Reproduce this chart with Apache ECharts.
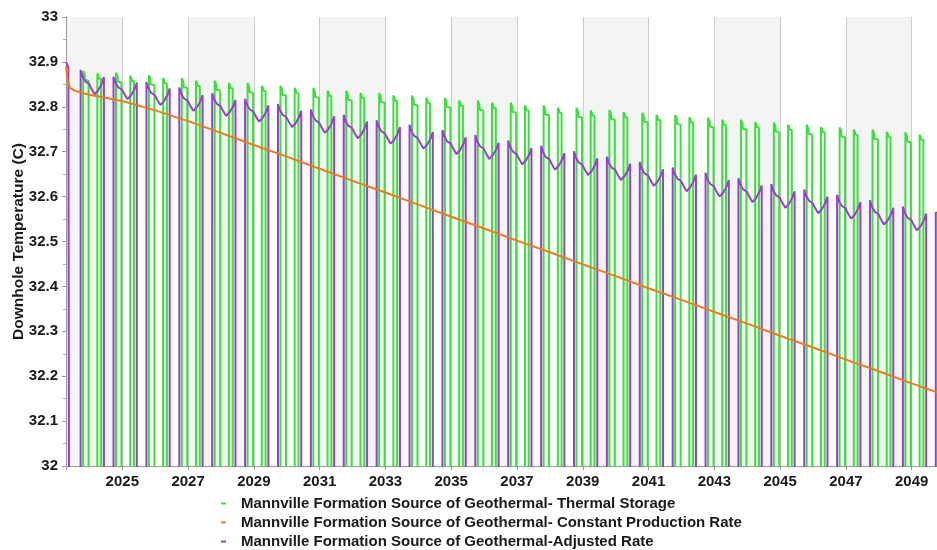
<!DOCTYPE html>
<html><head><meta charset="utf-8">
<script src="https://cdn.jsdelivr.net/npm/echarts@6/dist/echarts.min.js"></script>
<style>html,body{margin:0;padding:0;background:#fff}#c{width:937px;height:550px}</style>
</head><body><div id="c"></div>
<script>
// ---- data ----
const seriesNames = [
  'Mannville Formation Source of Geothermal- Thermal Storage',
  'Mannville Formation Source of Geothermal- Constant Production Rate',
  'Mannville Formation Source of Geothermal-Adjusted Rate'
];
const xStart = 2023.288, xEnd = 2049.77;          // decimal years
const labelYears = [2025,2027,2029,2031,2033,2035,2037,2039,2041,2043,2045,2047,2049];
const yTicks = [32,32.1,32.2,32.3,32.4,32.5,32.6,32.7,32.8,32.9,33];
const offChart = 31.5;                              // values below the visible range

// cycle start years (each cycle: purple rises ~late Sept)
const cycleYears = [2023,2024,2025,2026,2027,2028,2029,2030,2031,2032,2033,2034,2035,2036,2037,2038,2039,2040,2041,2042,2043,2044,2045,2046,2047,2048];
// event timing within a cycle (years after Jan 1 of the cycle year)
const phase = {pRise:0.733, g1Rise:0.809, g1Fall:0.975, g2Rise:1.241, g2Fall:1.356, pFall:1.441};

// Adjusted Rate (purple): start, minimum, end of each operating period
const pStart = [32.882,32.867,32.855,32.843,32.830,32.818,32.806,32.794,32.782,32.770,32.760,32.748,32.737,32.725,32.713,32.701,32.689,32.677,32.665,32.653,32.641,32.628,32.616,32.604,32.592,32.578];
const pMin   = [32.828,32.817,32.804,32.791,32.780,32.767,32.755,32.742,32.730,32.718,32.707,32.695,32.684,32.672,32.660,32.648,32.637,32.624,32.612,32.600,32.588,32.575,32.563,32.551,32.538,32.525];
const pEnd   = [32.866,32.854,32.841,32.826,32.815,32.803,32.791,32.779,32.767,32.755,32.744,32.732,32.720,32.708,32.697,32.685,32.673,32.661,32.649,32.637,32.625,32.612,32.600,32.588,32.575,32.562];
const pInitial = [[2023.288,32.900],[2023.36,32.888],[2023.39,32.884]];
const pFinal = [[2049.733,32.565],[2049.77,32.563]];

// Thermal Storage (green): two pulses per cycle
const g1Peak = [32.880,32.876,32.870,32.864,32.858,32.853,32.847,32.842,32.836,32.831,32.825,32.820,32.814,32.809,32.803,32.798,32.793,32.787,32.782,32.776,32.771,32.765,32.760,32.754,32.749,32.743];
const g1End  = [32.858,32.854,32.848,32.842,32.836,32.831,32.825,32.820,32.814,32.809,32.803,32.798,32.792,32.787,32.781,32.776,32.771,32.765,32.760,32.754,32.749,32.743,32.738,32.732,32.727,32.721];
const g2Peak = [32.874,32.869,32.864,32.858,32.853,32.847,32.842,32.836,32.831,32.825,32.820,32.814,32.809,32.803,32.798,32.792,32.788,32.782,32.777,32.771,32.766,32.760,32.755,32.749,32.744,32.738];
const g2End  = [32.862,32.857,32.852,32.846,32.841,32.835,32.830,32.824,32.819,32.813,32.808,32.802,32.797,32.791,32.786,32.780,32.776,32.770,32.765,32.759,32.754,32.748,32.743,32.737,32.732,32.726];

// Constant Production Rate (orange)
const oYears = [2023.288,2023.318,2023.35,2023.41,2023.56,2023.74,2024,2025,2026,2027,2028,2029,2030,2031,2032,2033,2034,2035,2036,2037,2038,2039,2040,2041,2042,2043,2044,2045,2046,2047,2048,2049,2049.77];
const oVals  = [32.890,32.870,32.855,32.842,32.836,32.832,32.827,32.813,32.792,32.768,32.742,32.715,32.689,32.662,32.635,32.609,32.582,32.555,32.529,32.502,32.476,32.449,32.423,32.396,32.370,32.343,32.317,32.290,32.264,32.237,32.211,32.184,32.164];

// ---- build series data ----
const green = [[xStart, offChart]];
const purple = pInitial.slice();
purple.push([pInitial[pInitial.length-1][0], offChart]);
cycleYears.forEach((yr, k) => {
  const a = yr + phase.g1Rise, b = yr + phase.g1Fall, w1 = b - a;
  green.push([a, offChart],[a, g1Peak[k]],[a+0.28*w1, g1Peak[k]-0.008],[a+0.34*w1, g1End[k]+0.002],[b, g1End[k]],[b, offChart]);
  const c = yr + phase.g2Rise, d = yr + phase.g2Fall, w2 = d - c;
  green.push([c, offChart],[c, g2Peak[k]],[c+0.3*w2, g2Peak[k]-0.005],[c+0.38*w2, g2End[k]+0.001],[d, g2End[k]],[d, offChart]);
  const r = yr + phase.pRise, f = yr + phase.pFall, D = f - r;
  const A = pStart[k], M = pMin[k], B = pEnd[k];
  purple.push([r, offChart],[r, A],
    [r+0.08*D, A-0.26*(A-M)],[r+0.2*D, A-0.47*(A-M)],[r+0.36*D, A-0.57*(A-M)],
    [r+0.45*D, A-0.75*(A-M)],[r+0.6*D, M],[r+0.75*D, M+0.22*(B-M)],[r+0.9*D, M+0.6*(B-M)],
    [f, B],[f, offChart]);
});
green.push([xEnd, offChart]);
purple.push([pFinal[0][0], offChart]);
pFinal.forEach(p => purple.push(p));
const orange = oYears.map((x,i) => [x, oVals[i]]);

const font = 'Arial, "Liberation Sans", sans-serif';
const chart = echarts.init(document.getElementById('c'), null, {renderer:'canvas'});
chart.setOption({
  animation:false,
  backgroundColor:'#fff',
  grid:{left:66, top:17, right:0, bottom:84, containLabel:false, outerBoundsMode:'none'},
  xAxis:{
    type:'value', min:xStart, max:xEnd,
    axisLine:{show:true, onZero:false, lineStyle:{color:'#9a9a9a', width:1}},
    axisTick:{show:true, customValues:[xStart].concat(labelYears,[xEnd]), length:4, lineStyle:{color:'#9a9a9a'}},
    axisLabel:{show:true, customValues:labelYears, formatter:v=>String(Math.round(v)),
      fontSize:15, fontWeight:'bold', color:'#1a1a1a', fontFamily:font, margin:8},
    splitLine:{show:true, lineStyle:{color:'#cdcdcd', width:1}},
    splitArea:{show:true, areaStyle:{color:['#f4f4f4','#ffffff']}}
  },
  yAxis:{
    type:'value', min:32, max:33, interval:0.1,
    name:'Downhole Temperature (C)', nameLocation:'middle', nameGap:39, nameRotate:90,
    nameMoveOverlap:false,
    nameTextStyle:{fontSize:15.5, fontWeight:'bold', color:'#1a1a1a', fontFamily:font},
    axisLine:{show:true, lineStyle:{color:'#9a9a9a'}},
    axisTick:{show:true, length:4, lineStyle:{color:'#9a9a9a'}},
    minorTick:{show:true, splitNumber:2, length:3, lineStyle:{color:'#b0b0b0'}},
    axisLabel:{show:true, fontSize:15, fontWeight:'bold', color:'#1a1a1a', fontFamily:font, margin:8,
      formatter:v=>{const t=yTicks.find(q=>Math.abs(q-v)<1e-6); return t===undefined?'':String(t);}},
    splitLine:{show:true, lineStyle:{color:'#c8c8c8', width:1}},
    splitArea:{show:false}
  },
  legend:{
    show:true, orient:'vertical', left:221, top:496, height:70, padding:0, itemGap:4,
    itemWidth:5, itemHeight:2, icon:'rect',
    textStyle:{fontSize:15, fontWeight:'bold', color:'#1a1a1a', fontFamily:font, padding:[0,0,0,10], lineHeight:15},
    data:seriesNames
  },
  series:[
    {name:seriesNames[0], type:'line', data:green, showSymbol:false, symbol:'none', z:2,
      lineStyle:{color:'#38e238', width:2}, itemStyle:{color:'#38e238'}, clip:true},
    {name:seriesNames[1], type:'line', data:orange, showSymbol:false, symbol:'none', z:4,
      lineStyle:{color:'#f07a1e', width:2}, itemStyle:{color:'#f07a1e'}, clip:true},
    {name:seriesNames[2], type:'line', data:purple, showSymbol:false, symbol:'none', z:3,
      lineStyle:{color:'#9b3fd0', width:2}, itemStyle:{color:'#9b3fd0'}, clip:true}
  ]
});
</script></body></html>
